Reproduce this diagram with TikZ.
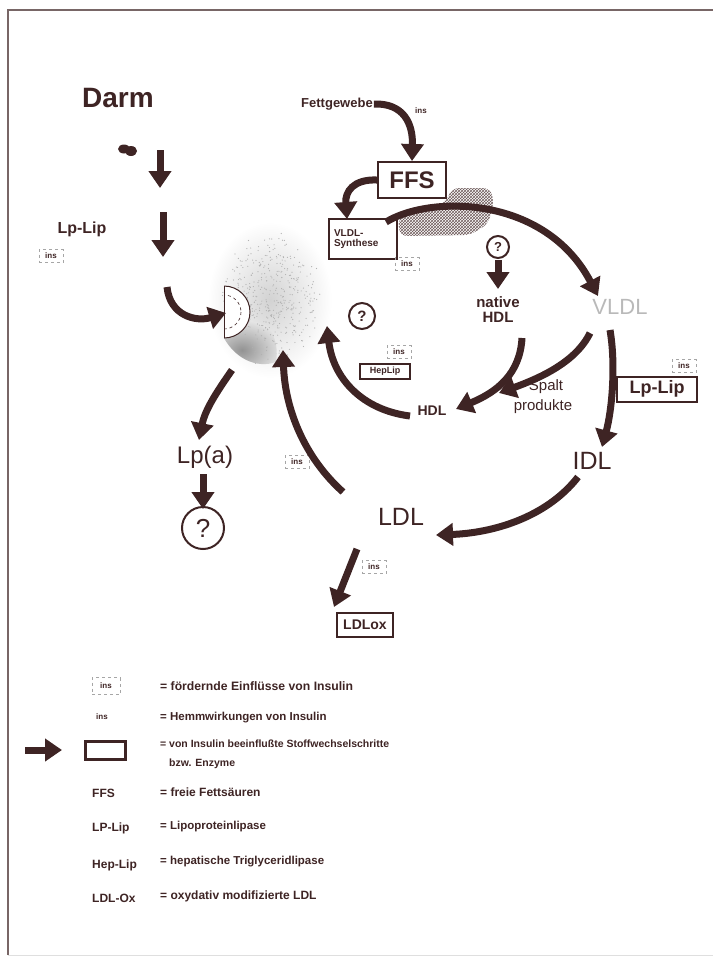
\documentclass[tikz,border=0pt]{standalone}
\usepackage{fontspec}
\setmainfont{Liberation Sans}
\usetikzlibrary{arrows.meta,patterns}
\definecolor{ink}{RGB}{62,36,36}
\begin{document}
\begin{tikzpicture}[x=1pt,y=-1pt,
  fat/.style={draw=ink, line width=7pt, -{Triangle[width=22pt,length=17pt]}},
  lbl/.style={text=ink, font=\bfseries\fontsize{#1}{#1}\selectfont, inner sep=1pt},
  rlbl/.style={text=ink, font=\fontsize{#1}{#1}\selectfont, inner sep=1pt},
  enz/.style={draw=ink, line width=2pt, text=ink, inner sep=3pt},
  insd/.style={draw=gray!70, dashed, line width=0.6pt, text=ink, font=\bfseries\fontsize{8}{8}\selectfont, inner sep=2pt, minimum width=24pt, minimum height=13pt},
  insp/.style={text=ink, font=\bfseries\fontsize{8}{8}\selectfont, inner sep=1pt},
  qcirc/.style={circle, draw=ink, line width=2pt, text=ink, inner sep=0pt},
  leg/.style={text=ink, font=\bfseries\fontsize{11.5}{14}\selectfont, anchor=west, inner sep=0pt, align=left},
  legl/.style={text=ink, font=\bfseries\fontsize{12}{12}\selectfont, anchor=west, inner sep=0pt}
]
\useasboundingbox (0,0) rectangle (713,962);
% frame
\draw[ink!70, line width=1.2pt] (8,955) -- (8,10) -- (713,10);
\draw[gray!25, line width=1pt] (8,955) -- (713,955);

% liver shading
\shade[inner color=gray!35, outer color=white] (270,300) ellipse (62 and 78);
\begin{scope}
  \clip (224,338) .. controls (238,338) and (250,326) .. (250,312)
    .. controls (268,318) and (280,340) .. (276,362) .. controls (256,369) and (235,358) .. cycle;
  \shade[inner color=gray!85, outer color=gray!20] (242,350) ellipse (40 and 30);
\end{scope}
\pgfmathsetseed{42}
\foreach \i in {1,...,1600}{
  \pgfmathsetmacro{\px}{270+60*rand}
  \pgfmathsetmacro{\py}{290+90*rand}
  \pgfmathparse{((\px-272)/60)^2+((\py-300)/78)^2 < 0.8*rnd ? 1 : 0}
  \ifnum\pgfmathresult=1 \fill[gray!60] (\px,\py) circle (0.6); \fi
}
\begin{scope}
  \clip (224,270) rectangle (270,350);
  \filldraw[fill=white, draw=ink, line width=1pt] (224,312) circle (26);
  \draw[ink, dashed, line width=0.6pt] (224,312) circle (17);
\end{scope}
\draw[ink, line width=1pt] (224,286) -- (224,338);

% texture band near FFS
\path[pattern=crosshatch, pattern color=ink!75, rounded corners=7pt]
  (398,218) -- (446,202) -- (452,188) -- (490,188) -- (494,202) -- (488,224) -- (470,235) -- (400,236) -- cycle;

% nodes
\node[lbl=28] (darm) at (118,98) {Darm};
\fill[ink] (124,149) ellipse (6 and 4.5);
\fill[ink] (131,151) ellipse (6 and 5);
\node[lbl=16] (lplipL) at (82,229) {Lp-Lip};
\node[insd] (insL) at (51,256) {ins};

\node[lbl=13] (fett) at (337,104) {Fettgewebe};
\node[insp] (insF) at (421,111) {ins};
\node[enz, lbl=24, minimum width=68pt, minimum height=36pt] (ffs) at (412,180) {FFS};
\node[enz, lbl=10, minimum width=68pt, minimum height=40pt, align=left, text width=58pt, inner sep=2pt] (vsyn) at (363,239) {VLDL-\\Synthese};
\node[insd] (insV) at (407,264) {ins};

\node[qcirc, lbl=13, minimum size=22pt] (q1) at (498,247) {?};
\node[lbl=15, align=center] (nhdl) at (498,310) {native\\HDL};
\node[rlbl=22, text=gray!55] (vldl) at (620,307) {VLDL};

\node[lbl=14] (hdl) at (432,411) {HDL};
\node[text=ink, font=\fontsize{15}{20}\selectfont, inner sep=1pt, align=center] (spalt) at (543,397) {\hspace*{6pt}Spalt\\produkte};
\node[qcirc, lbl=15, minimum size=26pt] (q2) at (362,316) {?};
\node[insd] (insH) at (399,352) {ins};
\node[enz, lbl=9, minimum width=50pt, minimum height=15pt, inner sep=1pt] (hep) at (385,371) {HepLip};

\node[enz, lbl=18, minimum width=80pt, minimum height=25pt] (lplipR) at (657,389) {Lp-Lip};
\node[insd] (insR) at (684,366) {ins};
\node[rlbl=25] (idl) at (592,461) {IDL};
\node[rlbl=25] (ldl) at (401,517) {LDL};
\node[insd] (insLDL1) at (297,462) {ins};
\node[insd] (insLDL2) at (374,567) {ins};
\node[enz, lbl=14, minimum width=56pt, minimum height=24pt] (ldlox) at (365,625) {LDLox};

\node[rlbl=24] (lpa) at (205,457) {Lp(a)};
\node[qcirc, rlbl=26, minimum size=42pt, line width=2pt] (q3) at (203,528) {?};

% coordinates for free ends
\coordinate (a1s) at (160,150); \coordinate (a1e) at (160,188);
\coordinate (a2s) at (163,212); \coordinate (a2e) at (163,257);
\coordinate (a3s) at (167,287); \coordinate (livL) at (226,313);
\coordinate (vsynin) at (347,219);
\coordinate (arcS) at (386,222); \coordinate (vldlin) at (598,296);
\coordinate (q1s) at (498,260); \coordinate (q1e) at (498,289);
\coordinate (nhs) at (522,338); \coordinate (hdlin) at (456,409);
\coordinate (vs1) at (590,333); \coordinate (spin) at (499,393);
\coordinate (hdlout) at (410,416); \coordinate (livR1) at (327,326);
\coordinate (vs2) at (610,330); \coordinate (idlin) at (602,447);
\coordinate (idlout) at (578,477); \coordinate (ldlin) at (436,535);
\coordinate (ldlout1) at (343,492); \coordinate (livR2) at (283,350);
\coordinate (ldlout2) at (357,549); \coordinate (oxin) at (334,607);
\coordinate (livD) at (232,370); \coordinate (lpain) at (199,440);
\coordinate (lpaout) at (203,474); \coordinate (q3in) at (203,509);

% arrows
\draw[fat] (a1s) -- (a1e);
\draw[fat] (a2s) -- (a2e);
\draw[fat] (a3s) .. controls (170,316) and (196,322) .. (livL);
\draw[fat] (fett.east) .. controls (404,103) and (413,124) .. (ffs.north);
\draw[fat] (ffs.west) .. controls (353,179) and (345,192) .. (vsynin);
\draw[fat] (arcS) .. controls (430,195) and (545,195) .. (vldlin);
\draw[fat] (q1s) -- (q1e);
\draw[fat] (nhs) .. controls (520,374) and (497,392) .. (hdlin);
\draw[fat] (vs1) .. controls (576,362) and (540,378) .. (spin);
\draw[fat] (hdlout) .. controls (362,410) and (333,378) .. (livR1);
\draw[fat] (vs2) .. controls (616,365) and (612,410) .. (idlin);
\draw[fat] (idlout) .. controls (546,518) and (492,533) .. (ldlin);
\draw[fat] (ldlout1) .. controls (305,458) and (285,410) .. (livR2);
\draw[fat] (ldlout2) -- (oxin);
\draw[fat] (livD) .. controls (216,393) and (205,410) .. (lpain);
\draw[fat] (lpaout) -- (q3in);

% legend
\node[insd, minimum width=28pt, minimum height=17pt] (lg1) at (106,686) {ins};
\node[leg, font=\bfseries\fontsize{12.2}{12}\selectfont] (lt1) at (160,686) {= fördernde Einflüsse von Insulin};
\node[insp] (lg2) at (102,717) {ins};
\node[leg] (lt2) at (160,718) {= Hemmwirkungen von Insulin};
\node[draw=ink, line width=3pt, minimum width=40pt, minimum height=18pt] (lg3) at (105,750) {};
\coordinate (lgs) at (25,750); \coordinate (lge) at (62,750);
\draw[fat] (lgs) -- (lge);
\node[leg, font=\bfseries\fontsize{10.5}{19}\selectfont] (lt3) at (160,754) {= von Insulin beeinflußte Stoffwechselschritte\\\hspace*{9pt}bzw. Enzyme};
\node[legl] (lg4) at (92,793) {FFS};
\node[leg, font=\bfseries\fontsize{12}{12}\selectfont] (lt4) at (160,792) {= freie Fettsäuren};
\node[legl] (lg5) at (92,828) {LP-Lip};
\node[leg] (lt5) at (160,827) {= Lipoproteinlipase};
\node[legl] (lg6) at (92,865) {Hep-Lip};
\node[leg] (lt6) at (160,862) {= hepatische Triglyceridlipase};
\node[legl] (lg7) at (92,898) {LDL-Ox};
\node[leg, font=\bfseries\fontsize{12}{12}\selectfont] (lt7) at (160,896) {= oxydativ modifizierte LDL};
\end{tikzpicture}
\end{document}
